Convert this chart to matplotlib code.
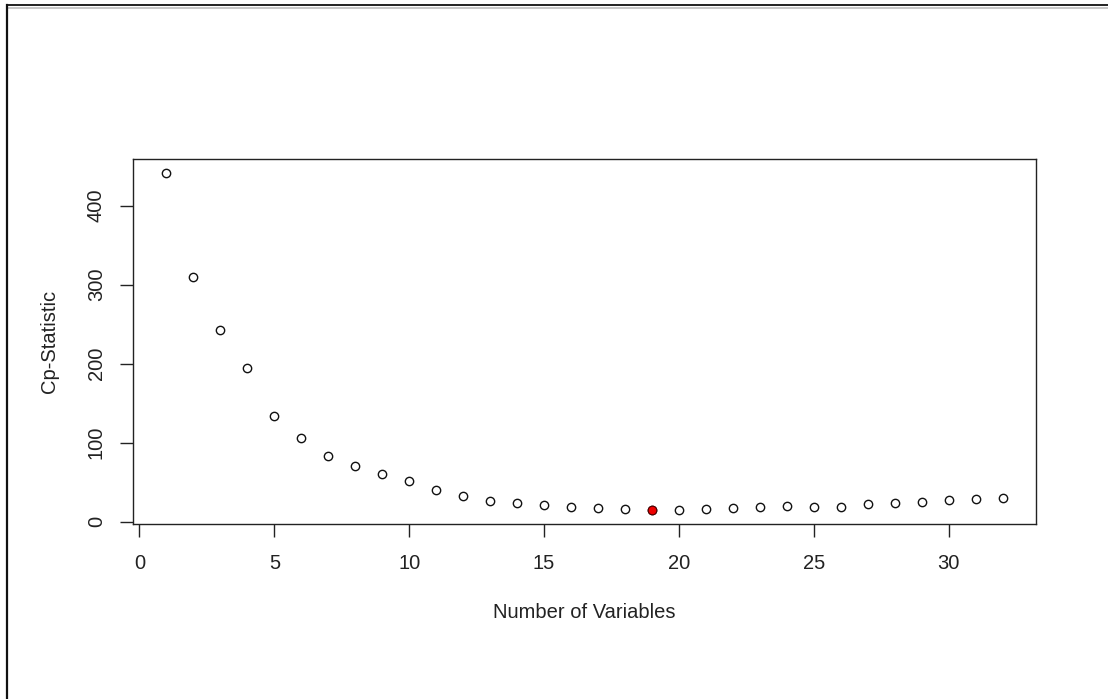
import matplotlib
matplotlib.use("Agg")
import matplotlib.pyplot as plt
from matplotlib.lines import Line2D

# Cp statistic for the best model of each size
n_vars = list(range(1, 33))
cp_values = [441.8, 309.2, 243.0, 194.7, 133.1, 105.9, 83.3, 70.2, 60.6, 50.9,
             39.4, 32.9, 26.6, 23.7, 21.6, 18.7, 17.0, 15.7, 14.1, 14.5,
             15.7, 17.0, 18.7, 20.4, 18.7, 18.7, 22.0, 23.7, 25.4, 27.0,
             28.3, 30.0]
best_size = 19

x_ticks = [0, 5, 10, 15, 20, 25, 30]
y_ticks = [0, 100, 200, 300, 400]

plt.rcParams["font.family"] = ["Liberation Sans", "DejaVu Sans"]

W, H = 1108, 699
fig = plt.figure(figsize=(W / 100, H / 100), dpi=100)
fig.patch.set_facecolor("white")

# window-style frame along the top and left edges
fig.add_artist(Line2D([7 / W, 1], [1 - 7.5 / H, 1 - 7.5 / H], color="#c8c8c8", lw=1.4))
fig.add_artist(Line2D([7 / W, 1], [1 - 5.3 / H, 1 - 5.3 / H], color="#111111", lw=1.3))
fig.add_artist(Line2D([7 / W, 7 / W], [0, 1 - 4.6 / H], color="#111111", lw=1.6))

ax = fig.add_axes([133 / W, 1 - 524 / H, (1036 - 133) / W, (524 - 159) / H])

# R-style 4% padding around the data range
xr = max(n_vars) - min(n_vars)
yr = max(cp_values) - min(cp_values)
ax.set_xlim(min(n_vars) - 0.04 * xr, max(n_vars) + 0.04 * xr)
ax.set_ylim(min(cp_values) - 0.04 * yr, max(cp_values) + 0.04 * yr)

ax.plot(n_vars, cp_values, linestyle="none", marker="o", markersize=6.0,
        markerfacecolor="none", markeredgecolor="#111111", markeredgewidth=1.0)
ax.plot([best_size], [cp_values[n_vars.index(best_size)]], linestyle="none",
        marker="o", markersize=6.2, markerfacecolor="#ee0000",
        markeredgecolor="#550000", markeredgewidth=0.8)

for s in ax.spines.values():
    s.set_color("#222222")
    s.set_linewidth(1.0)

ax.set_xticks(x_ticks)
ax.set_yticks(y_ticks)
ax.tick_params(axis="both", direction="out", length=9.5, width=1.0, color="#222222",
               labelsize=14.5, labelcolor="#222222")
ax.tick_params(axis="x", pad=12)
ax.tick_params(axis="y", pad=10)
for lbl in ax.get_yticklabels():
    lbl.set_rotation(90)
    lbl.set_va("center")

ax.set_xlabel("Number of Variables", fontsize=14.5, color="#222222", labelpad=22)
ax.set_ylabel("Cp-Statistic", fontsize=14.5, color="#222222", labelpad=20)

fig.savefig("out.png", dpi=100, facecolor="white")
